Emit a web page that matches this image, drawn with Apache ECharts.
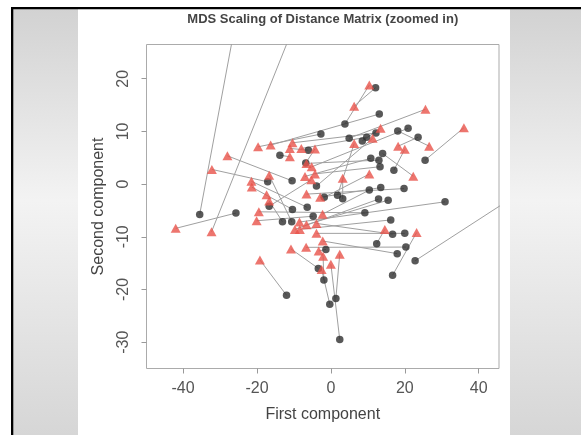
<!DOCTYPE html>
<html><head><meta charset="utf-8">
<script src="https://cdn.jsdelivr.net/npm/echarts@6/dist/echarts.min.js"></script>
<style>html,body{margin:0;padding:0;background:#fff}#c{width:581px;height:435px}</style>
</head><body><div id="c"></div>
<script>
// Each index is one connected pair: a circle (first sample) and a triangle (second sample).
// null circle = triangle without a visible partner; values outside the axis range lie beyond the zoomed view.
const circleX = [-35.5, 7.1, 22.8, -25.7, -10.5, -17.1, -2.7, 13.1, 12.1, 3.8, 4.95, 25.5, 8.5, 18.1, 20.9, 23.6, 12.4, 16.7, -12.0, 2.4, 1.35, -0.3, -1.9, -3.4, -1.35, 20.3, 17.95, 20.0, 16.7, 16.2, 30.9, 15.5, 12.9, 10.4, 19.8, 13.5, 9.2, 17.05, 13.3, 14.0, 13.0, 10.8, 9.7, 12.2, -3.9, -1.8, 1.8, 3.2, -16.7, -10.4, -6.4, -4.8, -13.1, -10.6, -6.1, -13.8, -6.8, null];
const circleY = [-5.75, 60, -14.55, -5.5, 0.63, 0.44, 9.5, 13.3, 18.3, 11.4, 8.7, 4.55, 8.2, 10.1, 10.6, 8.9, -11.3, -17.3, -21.1, -29.5, -21.7, -22.8, -18.2, -16.0, -12.4, -11.95, -13.2, -9.35, -9.5, -6.8, -3.36, -3.04, -2.85, -1.14, -0.85, -0.66, -5.45, 2.65, 3.3, 5.8, 4.55, 4.9, 8.9, 9.7, -0.38, -2.5, -2.1, -2.8, -4.2, -4.8, -4.4, -6.1, -7.15, -7.15, 6.45, 5.5, 4.0, null];
const triangleX = [-18.0, -32.3, 70, -42.0, -28.0, -32.2, -19.7, -16.3, 6.3, 10.4, 25.6, 36.0, 13.45, 26.6, -5.2, 18.2, 14.6, 23.2, -19.2, 0.0, 2.4, -2.5, -2.1, -10.8, -3.3, -6.7, -2.2, -3.9, -3.9, -8.4, -8.5, -6.6, -9.75, -2.25, -6.6, -2.9, -19.5, 20.0, -4.3, 22.3, -6.6, -7.0, -8.0, -10.4, 11.3, 10.4, 6.3, 3.2, -5.3, -21.4, -21.5, -20.1, -16.7, -16.7, -11.1, -11.1, -4.3, -17.4];
const triangleY = [60, -9.05, 6.9, -8.4, 5.37, 2.79, 7.08, 7.4, 14.8, 18.8, 14.2, 10.7, 10.6, 7.2, 3.28, 7.2, -8.6, -9.2, -14.4, -15.2, -13.3, -16.2, -13.7, -12.3, -12.7, -12.0, -10.8, -9.35, -7.46, -8.6, -7.2, -7.7, -8.6, -5.7, -1.9, -2.5, -5.26, 6.6, 1.94, 1.5, 3.93, 1.46, 6.77, 7.84, 8.7, 1.9, 7.7, 1.1, 0.83, -0.57, 0.53, -6.96, -3.2, 1.7, 6.77, 5.18, 6.68, -2.0];
const xTicks = [-40, -20, 0, 20, 40];
const yTicks = [-30, -20, -10, 0, 10, 20];
const titleText = 'MDS Scaling of Distance Matrix (zoomed in)';
const xName = 'First component';
const yName = 'Second component';

const chart = echarts.init(document.getElementById('c'), null, {renderer: 'canvas'});
const FONT = "'Liberation Sans', Arial, sans-serif";

const series = [];
for (let i = 0; i < triangleX.length; i++) {
  if (circleX[i] === null) continue;
  series.push({
    type: 'line', silent: true, clip: true, symbol: 'none', z: 1, animation: false,
    lineStyle: {color: '#a0a0a0', width: 1},
    data: [[circleX[i], circleY[i]], [triangleX[i], triangleY[i]]]
  });
}
series.push({
  type: 'scatter', clip: true, symbol: 'circle', symbolSize: 7.5, z: 3, animation: false,
  itemStyle: {color: '#2e2e2e'},
  data: circleX.map((x, i) => x === null ? null : [x, circleY[i]]).filter(d => d)
});
series.push({
  type: 'scatter', clip: true, symbol: 'triangle', symbolSize: [10, 9], z: 4, animation: false,
  itemStyle: {color: '#e8534a'},
  data: triangleX.map((x, i) => [x, triangleY[i]])
});

const panelGrad = () => new echarts.graphic.LinearGradient(0, 0, 0, 1, [
  {offset: 0, color: '#d2d2d2'}, {offset: 0.45, color: '#f3f3f3'}, {offset: 1, color: '#d6d6d6'}
]);

chart.setOption({
  backgroundColor: '#ffffff',
  animation: false,
  grid: {left: 146.5, right: 82, top: 44.5, bottom: 66.5, show: true, borderColor: '#ababab', borderWidth: 1, backgroundColor: 'transparent'},
  xAxis: {
    type: 'value', min: -49.9, max: 45.5,
    name: xName, nameLocation: 'middle', nameGap: 38,
    nameTextStyle: {fontFamily: FONT, fontSize: 16, color: '#444'},
    axisLine: {show: false, onZero: false},
    splitLine: {show: false},
    axisTick: {show: true, inside: false, length: 5, customValues: xTicks, lineStyle: {color: '#999'}},
    axisLabel: {customValues: xTicks, fontFamily: FONT, fontSize: 16, color: '#555', margin: 12}
  },
  yAxis: {
    type: 'value', min: -35, max: 26.5,
    name: yName, nameLocation: 'middle', nameGap: 40, nameRotate: 90,
    nameTextStyle: {fontFamily: FONT, fontSize: 16, color: '#444'},
    axisLine: {show: false, onZero: false},
    splitLine: {show: false},
    axisTick: {show: true, inside: false, length: 5, customValues: yTicks, lineStyle: {color: '#999'}},
    axisLabel: {customValues: yTicks, rotate: 90, fontFamily: FONT, fontSize: 16, color: '#555', margin: 15}
  },
  graphic: [
    {type: 'rect', silent: true, z: -10, shape: {x: 13, y: 9, width: 65, height: 426}, style: {fill: panelGrad()}},
    {type: 'rect', silent: true, z: -10, shape: {x: 510, y: 9, width: 71, height: 426}, style: {fill: panelGrad()}},
    {type: 'rect', silent: true, z: 10, shape: {x: 11, y: 7, width: 570, height: 2.3}, style: {fill: '#000'}},
    {type: 'rect', silent: true, z: 10, shape: {x: 11, y: 7, width: 2.3, height: 428}, style: {fill: '#000'}},
    {type: 'text', silent: true, z: 10, x: 322.8, y: 19,
      style: {text: titleText, fill: '#444', font: "bold 13px 'Liberation Sans', Arial, sans-serif", align: 'center', verticalAlign: 'middle'}}
  ],
  series: series
});
</script>
</body></html>
